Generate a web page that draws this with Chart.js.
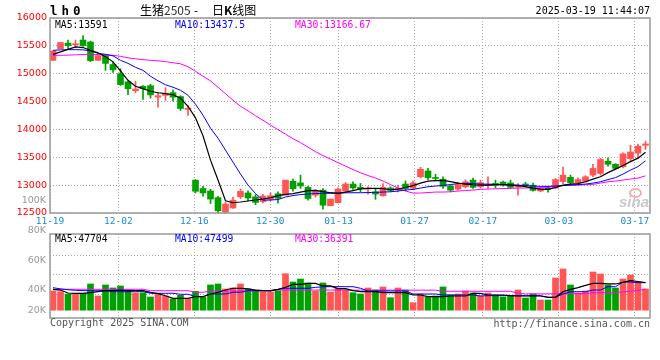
<!DOCTYPE html>
<html><head><meta charset="utf-8">
<script src="https://cdn.jsdelivr.net/npm/chart.js@4.4.1/dist/chart.umd.min.js"></script>
<style>
html,body{margin:0;padding:0;background:#fff;}
#wrap{position:relative;width:660px;height:360px;overflow:hidden;}
canvas{position:absolute;left:0;top:0;}
.t{position:absolute;white-space:pre;line-height:1;font-family:"DejaVu Sans Mono",monospace;font-size:10px;color:#000;}
</style></head><body>
<div id="wrap">
<canvas id="cp" width="660" height="360"></canvas>
<canvas id="cv" width="660" height="360"></canvas>
<div class="t" style="left:50px;top:5px;font-weight:bold;font-size:12.5px;letter-spacing:4px;">lh0</div>
<div class="t" style="left:140px;top:4px;font-family:'Noto Sans CJK SC';font-size:12px;">生猪<span style="color:#333">2505</span></div>
<div class="t" style="left:194px;top:4px;font-family:'Noto Sans CJK SC';font-size:12px;">-</div>
<div class="t" style="left:212px;top:4px;font-family:'Noto Sans CJK SC';font-size:12px;">日<b>K</b>线图</div>
<div class="t" style="right:10px;top:6px;">2025-03-19 11:44:07</div>
<div class="t" id="pm5" style="left:55px;top:19.5px;font-size:9.7px;color:#000;"></div>
<div class="t" id="pm10" style="left:175px;top:19.5px;font-size:9.7px;color:#0000ff;"></div>
<div class="t" id="pm30" style="left:295px;top:19.5px;font-size:9.7px;color:#ff00ff;"></div>
<div class="t" id="vm5" style="left:55px;top:234px;font-size:9.7px;color:#000;"></div>
<div class="t" id="vm10" style="left:175px;top:234px;font-size:9.7px;color:#0000ff;"></div>
<div class="t" id="vm30" style="left:295px;top:234px;font-size:9.7px;color:#ff00ff;"></div>
<div class="t" style="left:50px;top:318px;color:#555;">Copyright 2025 SINA.COM</div>
<div class="t" style="right:10px;top:318.5px;color:#555;">http://finance.sina.com.cn</div>
<div style="position:absolute;left:629px;top:188px;width:9px;height:6px;border:2px solid #f4b0b0;border-radius:50%;"></div>
<div class="t" style="left:619px;top:194px;font-family:'Liberation Sans';font-style:italic;font-weight:bold;font-size:15px;color:#c8c8c8;">sina</div>
</div>
<script>
// ---------- data ----------
const dates = ['11-19','11-20','11-21','11-22','11-25','11-26','11-27','11-28','11-29',
 '12-02','12-03','12-04','12-05','12-06','12-09','12-10','12-11','12-12','12-13',
 '12-16','12-17','12-18','12-19','12-20','12-23','12-24','12-25','12-26','12-27','12-30','12-31',
 '01-02','01-03','01-06','01-07','01-08','01-09','01-10','01-13','01-14','01-15','01-16','01-17',
 '01-20','01-21','01-22','01-23','01-24','01-27',
 '02-05','02-06','02-07','02-10','02-11','02-12','02-13','02-14','02-17','02-18','02-19','02-20','02-21',
 '02-24','02-25','02-26','02-27','02-28',
 '03-03','03-04','03-05','03-06','03-07','03-10','03-11','03-12','03-13','03-14','03-17','03-18','03-19'];
const tickLabels = ['11-19','12-02','12-16','12-30','01-13','01-27','02-17','03-03','03-17'];

const open  = [15240,15450,15550,15520,15605,15570,15240,15325,15165,15000,14855,14695,14775,14785,14580,14610,14660,14590,14360,
 13090,12940,12895,12775,12515,12590,12790,12860,12790,12705,12745,12845,12820,13070,13040,12960,12820,12910,12630,12685,12895,
 13020,12960,12930,12880,12810,12950,12915,13020,12945,13150,13255,13135,13105,12985,12930,12970,13090,12970,12990,13030,
 13055,13040,12965,13020,13000,12895,12945,12945,13065,13140,13045,13070,13180,13210,13430,13375,13330,13475,13575,13715];
const close = [15410,15560,15505,15535,15505,15235,15325,15185,15070,14805,14730,14725,14735,14620,14605,14650,14580,14375,14380,
 12890,12860,12750,12540,12660,12730,12890,12770,12690,12805,12810,12765,13090,12935,12985,12760,12890,12640,12750,12930,13020,
 12950,12935,12945,12840,12960,12905,12940,12940,13040,13285,13135,13120,12980,12910,13010,13060,12960,13045,13010,12995,
 13000,12960,12975,12995,12905,12940,12925,13100,13180,13045,13100,13150,13300,13460,13375,13300,13560,13595,13700,13740];
const high  = [15410,15560,15605,15605,15685,15585,15325,15330,15215,15090,14870,14865,14785,14810,14665,14750,14710,14605,14430,
 13100,12980,12925,12800,12690,12785,12930,12900,12830,12835,12860,12880,13090,13110,13180,12985,12920,12940,12750,12950,13045,
 13060,13030,12970,12925,13030,12970,13000,13075,13075,13320,13300,13195,13150,13000,13050,13095,13125,13090,13150,13090,
 13075,13090,13030,13050,13035,12960,12980,13120,13325,13180,13130,13170,13375,13480,13490,13385,13580,13715,13735,13790];
const low   = [15240,15450,15450,15465,15490,15215,15240,15060,15025,14790,14625,14655,14540,14560,14400,14520,14505,14340,14250,
 12860,12800,12670,12505,12495,12580,12760,12720,12650,12680,12715,12675,12820,12890,12940,12730,12785,12570,12630,12680,12880,
 12925,12880,12840,12745,12800,12880,12880,12900,12925,13130,13100,13075,12940,12880,12910,12950,12940,12945,12940,12950,
 12980,12940,12820,12970,12890,12880,12875,12940,13025,13020,13020,13050,13150,13180,13340,13280,13310,13435,13480,13640];

const ma5  = [15348,15393,15437,15482,15470,15420,15375,15303,15213,15052,14882,14775,14733,14685,14658,14644,14622,14560,14416,
 14208,13886,13449,13091,12720,12684,12697,12715,12733,12751,12774,12813,12835,12849,12876,12903,12906,12885,12864,12853,12876,
 12903,12933,12942,12942,12939,12917,12930,12957,12992,13037,13073,13082,13086,13064,13037,13019,13007,13001,13001,13010,
 13007,13001,12992,12974,12948,12930,12924,12957,13001,13019,13028,13061,13109,13150,13225,13288,13351,13422,13485,13591];
const ma10 = [15419,15428,15432,15432,15428,15410,15366,15348,15321,15240,15186,15115,15061,14954,14873,14801,14757,14703,14613,
 14452,14255,14022,13843,13628,13413,13198,13001,12850,12730,12733,12742,12787,12813,12831,12840,12849,12853,12853,12858,12862,
 12864,12864,12867,12871,12876,12881,12894,12912,12924,12948,12971,12984,12996,13010,13028,13032,13028,13019,13019,13014,
 13010,13005,13001,12992,12984,12978,12978,12984,12992,13001,13010,13019,13037,13061,13100,13136,13198,13270,13333,13437.5];
const ma30 = [15330,15330,15334,15339,15344,15348,15344,15339,15330,15312,15285,15267,15253,15240,15231,15217,15196,15178,15124,
 15043,14954,14873,14757,14641,14524,14416,14336,14246,14166,14076,13996,13915,13834,13763,13682,13601,13530,13467,13404,13342,
 13279,13222,13172,13127,13073,13010,12948,12894,12858,12858,12867,12876,12876,12881,12894,12903,12912,12924,12930,12935,
 12939,12942,12948,12948,12951,12953,12957,12984,12992,12996,13001,13007,13014,13037,13061,13073,13091,13109,13127,13166.67];

const volume = [33400,32200,28300,29500,29500,45300,24900,43600,38500,41900,35100,30000,30000,23200,28300,24900,19800,26100,19800,
 32900,23200,43600,45300,36800,38500,45300,36800,35100,31700,31700,33400,62700,48600,53700,47000,33400,47000,31700,38000,35100,
 30500,28300,38500,35100,40200,22000,38500,35100,13600,28300,23200,24900,40200,26600,28300,33400,30000,24900,30000,26600,
 23200,24900,35100,21500,28300,18100,18100,55400,70700,43600,30000,33400,65600,62200,43600,38500,53700,60500,48600,36800];
const volMa5 = [36000,35000,30000,29500,29500,30500,32200,33900,33900,35000,34000,34000,33900,31000,29000,25400,21000,21000,21000,
 23700,23700,28300,31200,35000,38000,38000,37000,35000,33900,33900,36000,39700,44700,44700,46400,46400,41900,41900,37300,37300,
 33900,32200,32200,32200,30500,30500,30500,30500,26600,26600,23700,23700,23700,24900,24900,24900,29400,29400,26600,26600,
 26600,25500,24900,24900,24900,24900,22700,22700,32200,36000,39000,43000,46400,46400,45300,45300,48000,50800,49500,47704];
const volMa10 = [39000,37000,35500,34500,34000,33900,33900,33900,32200,32200,32200,32200,32200,29500,29500,29500,29500,27800,27800,
 24000,24000,28300,28300,28300,31200,31200,33900,33900,33900,33900,36000,38000,38000,38000,38000,39500,40700,40700,40700,40700,
 40700,38000,33400,33400,33400,33400,33400,33400,28300,28300,28300,28300,26600,26600,26600,26600,26600,24900,25500,25500,
 25500,25500,25500,25500,25500,25500,22700,22700,28300,32200,32200,32200,35000,35000,40700,40700,48600,48600,47500,47499];
const volMa30 = [36300,36300,36300,36300,36300,36300,36300,36300,36300,36300,36300,36300,36300,33900,33900,33900,33900,33900,33900,
 31200,31200,33400,33400,33400,33400,33400,33400,33400,33400,33400,35000,35000,35000,35000,35000,35000,35000,35000,35000,35000,
 34800,34800,34800,34800,34800,34800,34800,34800,34800,34800,34800,34800,32900,32900,32900,32900,32900,32900,32900,32900,
 32900,32900,29500,28500,28500,28500,28500,28500,29000,29000,29000,29000,30500,30500,30500,30500,32000,33000,34500,36391];

// volume axis tick labels (as drawn in the reference) and grid values
const volLabels = ['20K','40K','60K','80K','100K'];
const volLabelAt = [0,35100,84300,135600,186500];
const volGridAt = [26600,60500,94400];

// ---------- styling ----------
const RED = '#ff5555', GREEN = '#00a000', GRID = '#a8a8a8';
const N = dates.length;
const OFF = 0.4; // body center inside each day slot
const colors = dates.map((d,i) => close[i] >= open[i] ? RED : GREEN);
const pts = arr => arr.map((v,i) => ({x: i + OFF, y: v}));

document.getElementById('pm5').textContent = 'MA5:' + ma5[N-1];
document.getElementById('pm10').textContent = 'MA10:' + ma10[N-1];
document.getElementById('pm30').textContent = 'MA30:' + ma30[N-1];
document.getElementById('vm5').textContent = 'MA5:' + volMa5[N-1];
document.getElementById('vm10').textContent = 'MA10:' + volMa10[N-1];
document.getElementById('vm30').textContent = 'MA30:' + volMa30[N-1];

const frame = { id: 'frame', afterDraw(c) {
  const {ctx, chartArea: a} = c;
  ctx.save(); ctx.strokeStyle = '#999'; ctx.lineWidth = 1.5;
  ctx.strokeRect(a.left, a.top, a.right - a.left, a.bottom - a.top);
  ctx.restore();
}};

const lineDs = (arr, color, w) => ({type: 'line', data: pts(arr), xAxisID: 'x', borderColor: color,
  borderWidth: w, pointRadius: 0, tension: 0, order: 1, fill: false});

const dateAxis = (showLabels, h) => ({
  type: 'linear', axis: 'x', position: 'bottom', min: 0, max: N - 1, offset: false,
  afterBuildTicks: s => { s.ticks = tickLabels.map(l => ({value: dates.indexOf(l)})); },
  afterFit: s => { s.height = h; },
  ticks: {display: showLabels, autoSkip: false, maxRotation: 0, padding: 3, color: '#1a8ad8',
    font: {family: 'DejaVu Sans Mono', size: 9.5}, callback: v => dates[v]},
  grid: {color: GRID, lineWidth: 1, drawTicks: false, offset: false},
  border: {display: false, dash: [1, 2]}
});

Chart.defaults.animation = false;

new Chart(document.getElementById('cp'), {
  type: 'bar',
  data: { datasets: [
    lineDs(ma5, '#000000', 1.2),
    lineDs(ma10, '#0000ff', 1),
    lineDs(ma30, '#ff00ff', 1),
    {data: dates.map((d,i) => ({x: i + OFF, y: [low[i], high[i]]})), xAxisID: 'x', backgroundColor: colors,
      barThickness: 1, grouped: false, order: 2, borderWidth: 0},
    {data: dates.map((d,i) => ({x: i + OFF, y: [open[i], close[i]]})), xAxisID: 'x', backgroundColor: colors,
      barThickness: 6, grouped: false, order: 2, borderWidth: 0, minBarLength: 1}
  ]},
  options: {
    responsive: false, devicePixelRatio: 1,
    layout: {padding: {top: 18, right: 10, left: 0, bottom: 0}},
    plugins: {legend: {display: false}, tooltip: {enabled: false}},
    scales: {
      x: {type: 'linear', min: 0, max: N, display: false, offset: false, grid: {offset: false}},
      xd: dateAxis(true, 147),
      y: {type: 'linear', position: 'left', min: 12500, max: 16000,
        afterFit: s => { s.width = 50; },
        ticks: {stepSize: 500, padding: 3, color: '#ff0000', autoSkip: false,
          font: {family: 'DejaVu Sans', size: 9.5}, callback: v => String(v)},
        grid: {color: GRID, drawTicks: false},
        border: {display: false, dash: [1, 2]}}
    }
  },
  plugins: [frame]
});

new Chart(document.getElementById('cv'), {
  type: 'bar',
  data: { datasets: [
    lineDs(volMa5, '#000000', 1.2),
    lineDs(volMa10, '#0000ff', 1),
    lineDs(volMa30, '#ff00ff', 1),
    {data: pts(volume), xAxisID: 'x', backgroundColor: colors, barThickness: 6, grouped: false, order: 2, borderWidth: 0}
  ]},
  options: {
    responsive: false, devicePixelRatio: 1,
    layout: {padding: {top: 234, right: 10, left: 0, bottom: 0}},
    plugins: {legend: {display: false}, tooltip: {enabled: false}},
    scales: {
      x: {type: 'linear', min: 0, max: N, display: false, offset: false, grid: {offset: false}},
      xd: dateAxis(false, 42),
      y: {type: 'linear', position: 'left', min: -12400, max: 130000,
        afterFit: s => { s.width = 50; },
        afterBuildTicks: s => { s.ticks = volGridAt.concat(volLabelAt).map(v => ({value: v})); },
        ticks: {padding: 4, color: '#999999', autoSkip: false,
          font: {family: 'DejaVu Sans', size: 9.5},
          callback: v => { const k = volLabelAt.indexOf(v); return k >= 0 ? volLabels[k] : ''; }},
        grid: {color: c => (c.tick && volGridAt.includes(c.tick.value)) ? GRID : 'rgba(0,0,0,0)', drawTicks: false},
        border: {display: false, dash: [1, 2]}}
    }
  },
  plugins: [frame]
});
</script>
</body></html>
